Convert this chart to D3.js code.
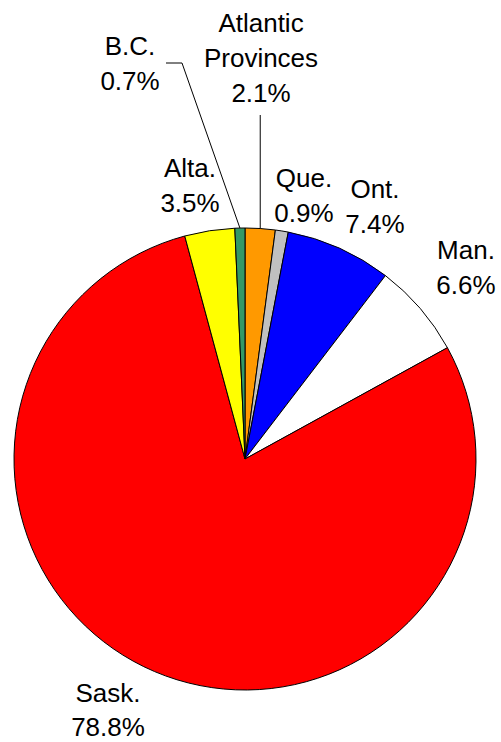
<!DOCTYPE html>
<html>
<head>
<meta charset="utf-8">
<script src="https://cdn.jsdelivr.net/npm/d3@7"></script>
<style>
  body { margin: 0; background: #fff; }
  svg { display: block; }
</style>
</head>
<body>
<script>
const {select, pie, arc} = d3;

// data, clockwise from 12 o'clock
const provinces = ['Atlantic Provinces', 'Que.', 'Ont.', 'Man.', 'Sask.', 'Alta.', 'B.C.'];
const labelLines = [['Atlantic', 'Provinces'], ['Que.'], ['Ont.'], ['Man.'], ['Sask.'], ['Alta.'], ['B.C.']];
const shares = [2.1, 0.9, 7.4, 6.6, 78.8, 3.5, 0.7];
const colors = ['#FF9900', '#C0C0C0', '#0000FF', '#FFFFFF', '#FF0000', '#FFFF00', '#339966'];

const width = 501;
const height = 742;
const cx = 245;
const cy = 459;
const radius = 231;

// label placement: centre x and first baseline, offset from pie centre
const labelPos = [
  {dx: 16, dy: -427},
  {dx: 59, dy: -272},
  {dx: 130, dy: -261},
  {dx: 221, dy: -200},
  {dx: -137, dy: 243},
  {dx: -55, dy: -282},
  {dx: -115, dy: -404}
];
const lineHeight = 35;

const svg = select('body')
  .append('svg')
  .attr('width', width)
  .attr('height', height);

const g = svg.append('g')
  .attr('transform', `translate(${cx},${cy})`);

const slices = pie().sort(null).value(d => d)(shares);
const arcGen = arc().innerRadius(0).outerRadius(radius);

g.selectAll('path')
  .data(slices)
  .enter()
  .append('path')
  .attr('d', arcGen)
  .attr('fill', (d, i) => colors[i])
  .attr('stroke', '#000')
  .attr('stroke-width', 1);

// leader lines for the two thin slices at the top
const edgePoint = d => {
  const a = (d.startAngle + d.endAngle) / 2;
  return [radius * Math.sin(a), -radius * Math.cos(a)];
};
const atl = slices[0];
const bc = slices[6];
const line = d3.line();
const leaders = [
  [[edgePoint(atl)[0], -344], edgePoint(atl)],
  [[-79, -396], [-63, -396], edgePoint(bc)]
];
g.selectAll('path.leader')
  .data(leaders)
  .enter()
  .append('path')
  .attr('class', 'leader')
  .attr('d', line)
  .attr('fill', 'none')
  .attr('stroke', '#000')
  .attr('stroke-width', 1);

const labels = g.selectAll('text.lbl')
  .data(slices)
  .enter()
  .append('text')
  .attr('class', 'lbl')
  .attr('text-anchor', 'middle')
  .attr('font-family', 'Liberation Sans, Arial, sans-serif')
  .attr('font-size', 26)
  .attr('fill', '#000');

labels.each(function(d, i) {
  const t = select(this);
  const lines = labelLines[i].concat([shares[i].toFixed(1) + '%']);
  lines.forEach((s, k) => {
    t.append('tspan')
      .attr('x', labelPos[i].dx)
      .attr('y', labelPos[i].dy + k * (i === 4 ? 34 : lineHeight))
      .text(s);
  });
});
</script>
</body>
</html>
